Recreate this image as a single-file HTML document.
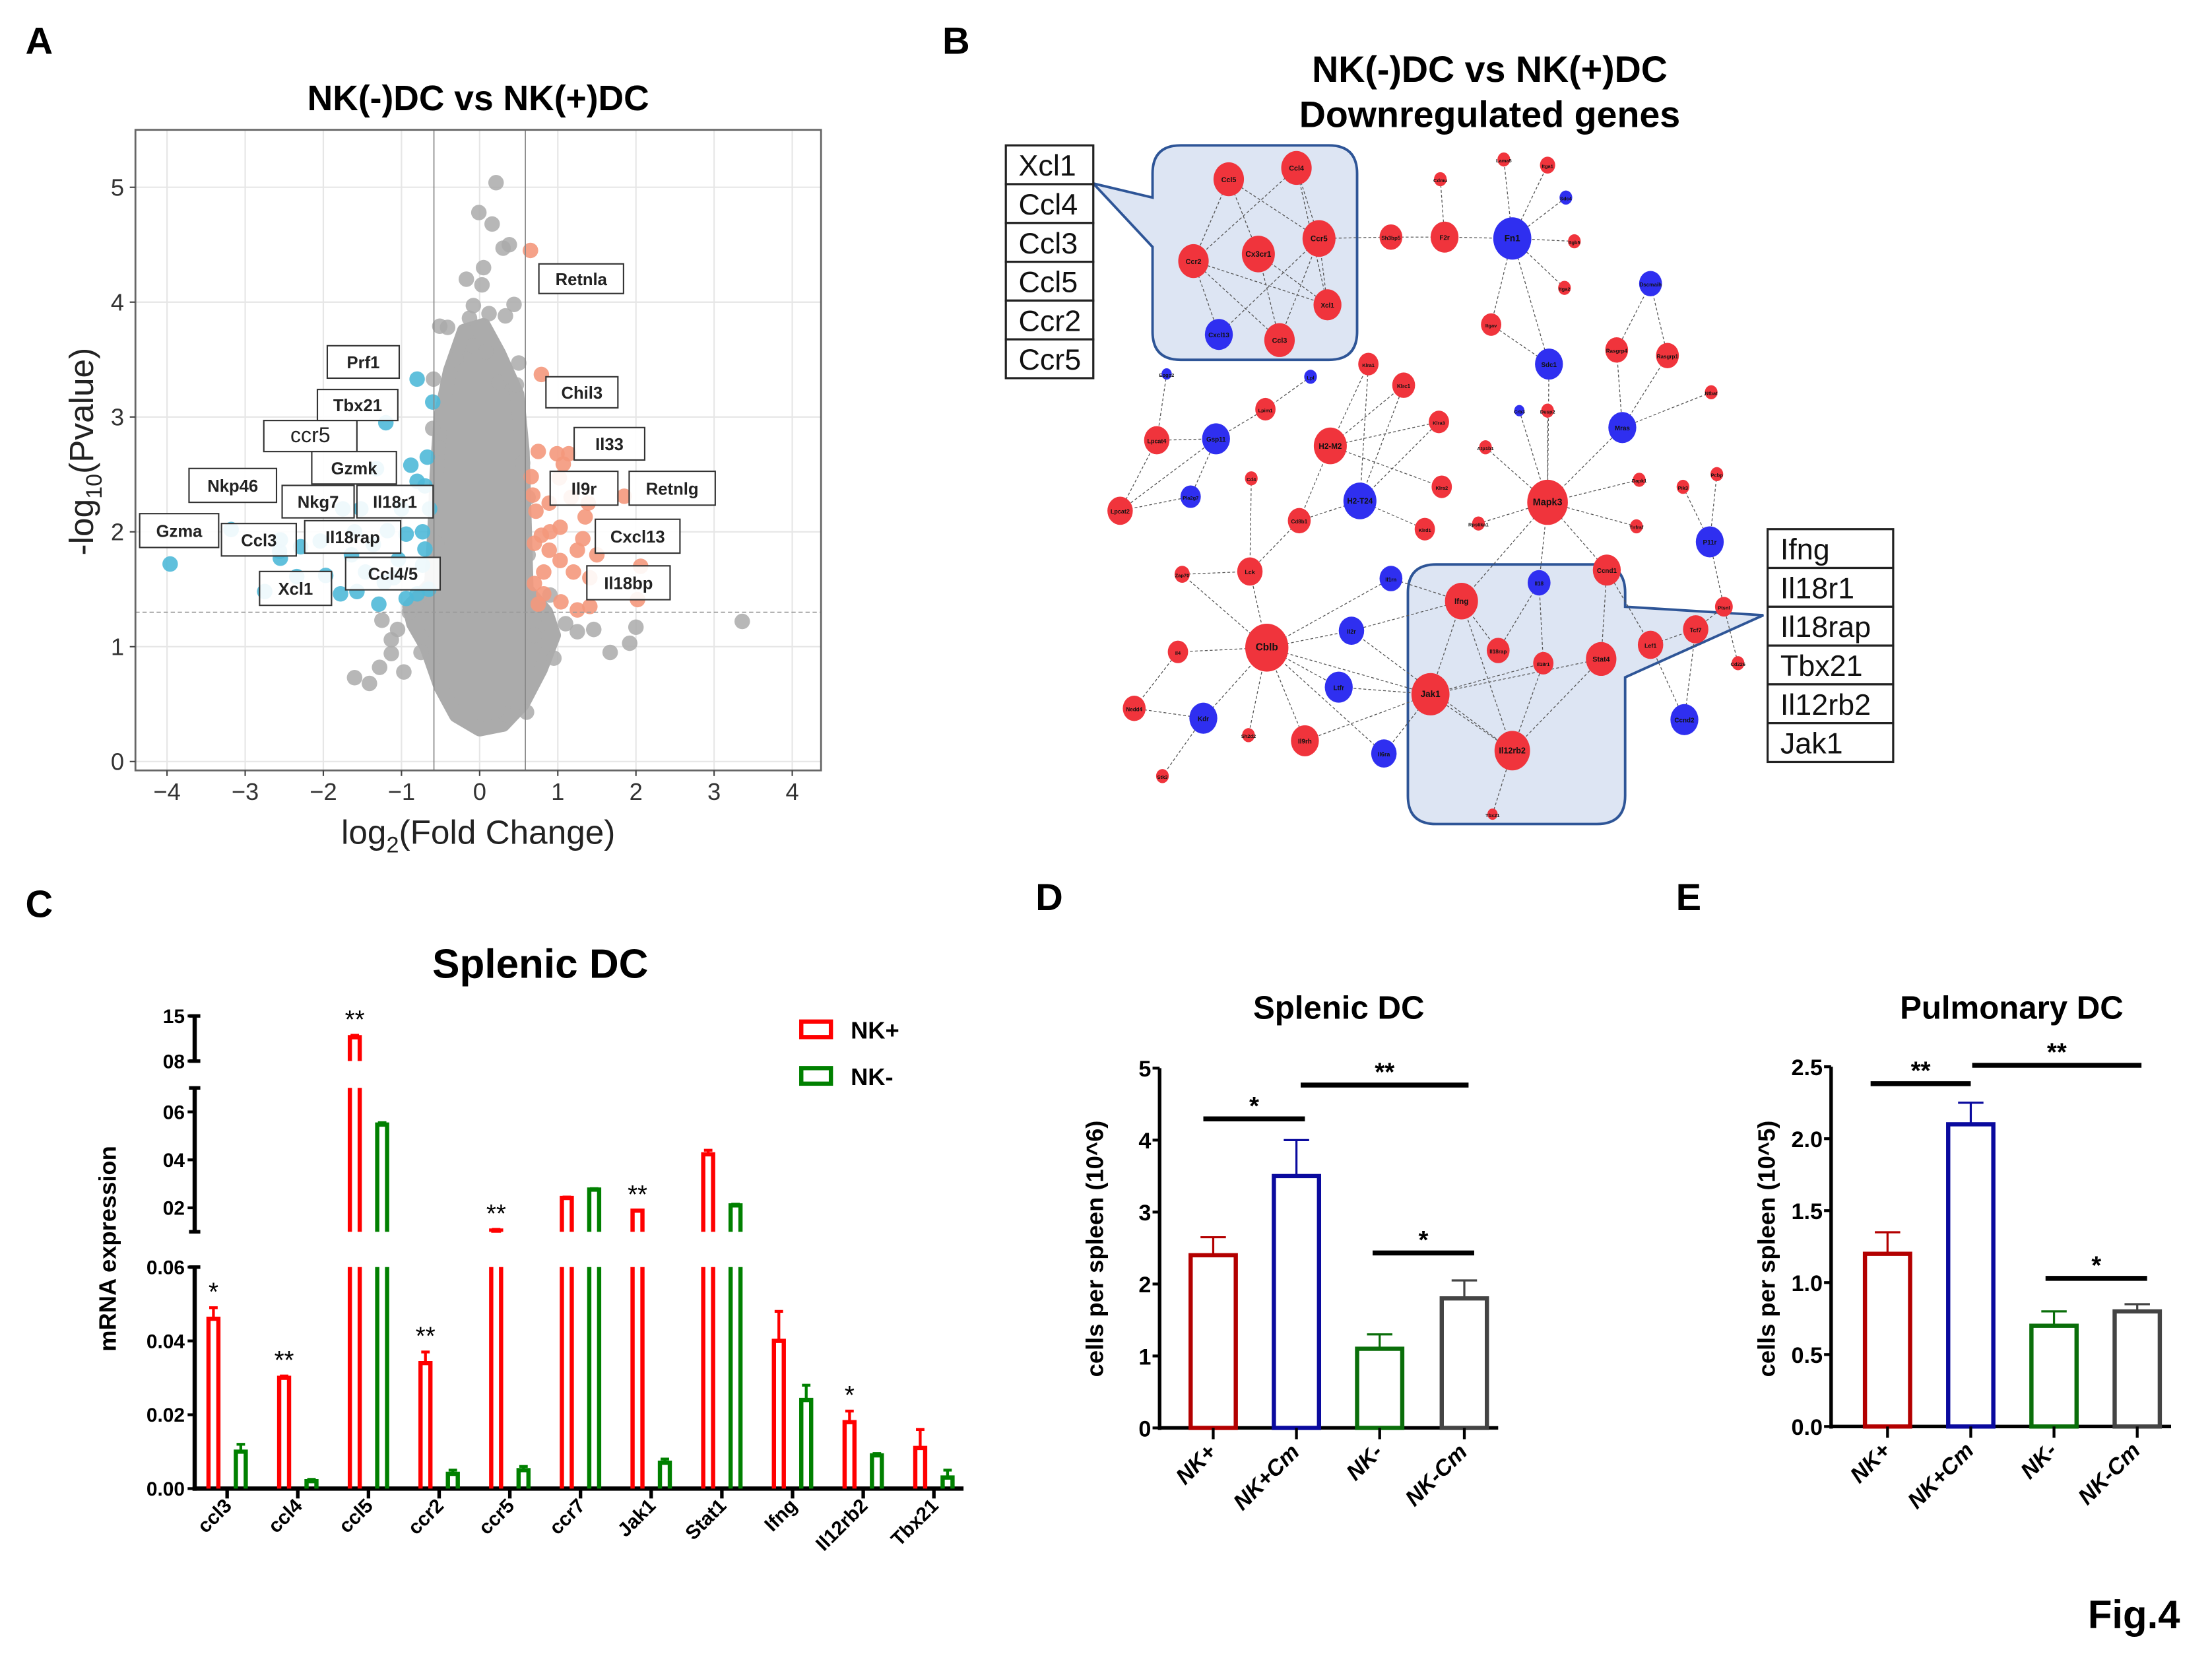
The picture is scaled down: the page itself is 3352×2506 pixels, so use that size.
<!DOCTYPE html>
<html><head><meta charset="utf-8">
<style>
html,body{margin:0;padding:0;background:#fff;}
svg{display:block;font-family:"Liberation Sans",Arial,sans-serif;}
</style></head>
<body>
<svg id="fig" width="3352" height="2506" viewBox="0 0 1568 1172.2" xmlns="http://www.w3.org/2000/svg">
<rect x="0" y="0" width="1568" height="1173" fill="#fff"/>
<g font-weight="bold" font-size="27" fill="#000">
<text x="18" y="38">A</text>
<text x="668" y="38">B</text>
<text x="18" y="650">C</text>
<text x="734" y="645">D</text>
<text x="1188" y="645">E</text>
<text x="1480" y="1154" font-size="28">Fig.4</text>
</g>
<g id="pA"></g>
<g id="pB"></g>
<g id="pC"></g>
<g id="pD"></g>
<g id="pE"></g>
</svg>
<script>
// ---------------- Panel A data ----------------
const volcanoGrayOutliers = [[0.21,5.04],[-0.01,4.78],[0.16,4.68],[0.3,4.47],[0.38,4.5],[-0.17,4.2],[0.05,4.3],[0.03,4.15],[-0.08,3.97],[0.44,3.98],[0.33,3.88],[-0.51,3.79],[-0.41,3.78],[-0.13,3.86],[-0.09,3.62],[0.08,3.57],[0.5,3.47],[0.47,3.28],[-0.59,3.33],[-0.51,2.73],[3.36,1.22],[2.0,1.17],[1.67,0.95],[1.92,1.03],[1.46,1.15],[1.25,1.13],[-0.97,0.78],[-1.28,0.82],[-1.41,0.68],[-1.6,0.73],[-1.13,0.94],[-1.13,1.06],[-1.25,1.23],[0.6,0.43],[0.33,0.41],[0.95,0.9],[1.1,1.2],[-0.9,1.3],[-1.05,1.15],[0.9,1.45],[0.55,2.6],[0.62,2.3],[-0.6,2.9],[-0.55,1.9],[0.62,1.8],[0.7,1.1],[-0.75,0.95],[0.25,3.3],[-0.3,3.5],[0.12,3.9]];
const volcanoDown = [[-3.96,1.72],[-3.18,2.02],[-2.75,1.48],[-2.55,1.93],[-2.56,1.83],[-2.55,1.77],[-2.29,1.87],[-2.34,1.61],[-1.97,1.62],[-2.04,1.92],[-1.75,2.2],[-1.52,2.2],[-1.32,2.55],[-1.2,2.95],[-0.8,3.33],[-0.6,3.13],[-0.67,2.65],[-0.88,2.58],[-0.8,2.44],[-0.64,2.2],[-0.73,2.0],[-0.94,1.98],[-1.18,2.01],[-1.36,1.89],[-1.64,1.8],[-1.46,1.65],[-1.22,1.56],[-1.57,1.48],[-1.29,1.37],[-0.8,1.46],[-0.73,1.71],[-1.04,1.76],[-0.94,1.42],[-1.78,1.46],[-0.7,1.85],[-1.0,2.2],[-1.1,1.6],[-0.65,1.5],[-0.7,2.4],[-1.6,2.0]];
const volcanoUp = [[0.65,4.45],[0.79,3.37],[0.75,2.7],[0.99,2.68],[1.14,2.68],[1.07,2.59],[0.66,2.48],[1.02,2.47],[1.17,2.3],[1.39,2.25],[1.85,2.31],[0.68,2.32],[0.72,2.18],[0.89,2.25],[1.35,2.13],[1.03,2.04],[0.79,1.97],[1.32,1.94],[1.25,1.84],[0.89,1.84],[1.03,1.75],[0.82,1.65],[1.2,1.65],[1.41,1.6],[2.06,1.7],[2.02,1.41],[0.82,1.46],[1.25,1.32],[1.41,1.35],[1.04,1.39],[0.75,1.37],[0.7,1.9],[0.9,2.0],[1.5,1.8],[0.7,1.55]];
const volcanoCloud = [[0,0.28],[-0.3,0.4],[-0.5,0.65],[-0.68,1.0],[-0.85,1.2],[-0.9,1.35],[-0.62,1.55],[-0.58,2.0],[-0.55,2.5],[-0.5,3.0],[-0.38,3.4],[-0.2,3.75],[0.05,3.8],[0.25,3.55],[0.48,3.2],[0.55,2.7],[0.58,2.0],[0.6,1.5],[0.85,1.3],[0.95,1.1],[0.78,0.8],[0.55,0.5],[0.3,0.32]];
const volcanoLabels = [["Retnla",382,187,442,208,1],["Prf1",232,245,283,268,1],["Tbx21",225,276,282,298,1],["ccr5",187,298,253,320,0],["Gzmk",221,320,281,343,1],["Nkp46",134,332,196,356,1],["Nkg7",200,344,251,367,1],["Il18r1",253,344,307,367,1],["Gzma",99,364,155,388,1],["Ccl3",157,371,210,394,1],["Il18rap",216,369,284,392,1],["Ccl4/5",245,395,312,418,1],["Xcl1",184,405,235,429,1],["Chil3",387,267,438,289,1],["Il33",407,303,457,326,1],["Il9r",390,334,438,358,1],["Retnlg",446,334,507,358,1],["Cxcl13",422,368,482,392,1],["Il18bp",416,401,475,425,1]];
const volcanoXTicks = [-4,-3,-2,-1,0,1,2,3,4];
const volcanoYTicks = [0,1,2,3,4,5];

// ---------------- Panel B data ----------------
const netNodes = [["Ccl5",871,127,12,"r"],["Ccl4",919,119,12,"r"],["Ccr5",935,169,13,"r"],["Ccr2",846,185,12,"r"],["Cx3cr1",892,180,13,"r"],["Xcl1",941,216,11,"r"],["Cxcl13",864,237,11,"b"],["Ccl3",907,241,12,"r"],
["Sh3bp5",986,168,9,"r"],["F2r",1024,168,11,"r"],["Fn1",1072,169,15,"b"],["Lama5",1066,113,5,"r"],["Itga1",1097,117,6,"r"],["Sdc4",1110,140,5,"b"],["Itgb5",1116,171,5,"r"],["Itga2",1109,204,5,"r"],["Cdmu",1021,127,5,"r"],["Itgav",1057,230,8,"r"],["Sdc1",1098,258,11,"b"],["Dscmaih",1170,201,9,"b"],["Rasgrp4",1146,248,9,"r"],["Rasgrp1",1182,252,9,"r"],["Ntbat",1213,278,5,"r"],["Mras",1150,303,11,"b"],
["Klra1",970,258,8,"r"],["Klrc1",995,273,9,"r"],["Klra3",1020,299,8,"r"],["Klra2",1022,345,8,"r"],["Klrd1",1010,375,8,"r"],["H2-M2",943,316,13,"r"],["H2-T24",964,355,13,"b"],["Lpim1",897,290,8,"r"],["Lpl",929,267,5,"b"],["Epgp2",827,265,4,"b"],["Lpcat4",820,312,10,"r"],["Gsp11",862,311,11,"b"],["Pla2g7",844,352,8,"b"],["Lpcat2",794,362,10,"r"],["Cd4",887,339,5,"r"],["Cd8b1",921,369,9,"r"],["Lck",886,405,10,"r"],["Zap70",838,407,6,"r"],
["Crb3",1077,291,4,"b"],["Dusp2",1097,291,5,"r"],["Atp1b1",1053,317,5,"r"],["Mapk3",1097,356,16,"r"],["Rps6ka1",1048,371,5,"r"],["Dapk1",1162,340,5,"r"],["Tnfrsf",1160,373,5,"r"],["Pik3",1193,345,5,"r"],["Pcbp",1217,336,5,"r"],["P11r",1212,384,11,"b"],["Ccnd1",1139,404,11,"r"],["Il18",1091,413,9,"b"],["Il1rn",986,410,9,"b"],["Ifng",1036,426,13,"r"],["Il2r",958,447,10,"b"],["Cblb",898,459,17,"r"],["Il18rap",1062,461,9,"r"],["Il18r1",1094,470,8,"r"],["Stat4",1135,467,12,"r"],["Lef1",1170,457,10,"r"],["Tcf7",1202,446,10,"r"],["Ptsnl",1222,430,7,"r"],["Cd226",1232,470,5,"r"],
["Ltfr",949,487,11,"b"],["Jak1",1014,492,15,"r"],["Il12rb2",1072,532,14,"r"],["Tbx21",1058,577,4,"r"],["Il6ra",981,534,10,"b"],["Kdr",853,509,11,"b"],["Nedd4",804,502,9,"r"],["Il4",835,462,8,"r"],["Sh2d2",885,521,5,"r"],["Il9rh",925,525,11,"r"],["Stk3",824,550,5,"r"],["Ccnd2",1194,510,11,"b"]];
const netEdges = [["Ccl5","Ccr2"],["Ccl5","Ccr5"],["Ccl5","Cx3cr1"],["Ccl4","Ccr2"],["Ccl4","Ccr5"],["Ccl4","Xcl1"],["Ccr2","Cxcl13"],["Ccr2","Xcl1"],["Ccr2","Ccl3"],["Cx3cr1","Ccl3"],["Ccr5","Ccl3"],["Ccr5","Cxcl13"],["Ccr5","Xcl1"],["Cx3cr1","Xcl1"],
["Ccr5","Sh3bp5"],["Sh3bp5","F2r"],["F2r","Fn1"],["F2r","Cdmu"],["Fn1","Lama5"],["Fn1","Itga1"],["Fn1","Sdc4"],["Fn1","Itgb5"],["Fn1","Itga2"],["Fn1","Itgav"],["Fn1","Sdc1"],["Itgav","Sdc1"],["Dscmaih","Rasgrp4"],["Dscmaih","Rasgrp1"],["Rasgrp4","Mras"],["Rasgrp1","Mras"],["Ntbat","Mras"],["Sdc1","Mapk3"],["Mras","Mapk3"],["Crb3","Mapk3"],["Dusp2","Mapk3"],["Atp1b1","Mapk3"],["Rps6ka1","Mapk3"],["Dapk1","Mapk3"],["Tnfrsf","Mapk3"],["Mapk3","Ccnd1"],["Mapk3","Ifng"],["Mapk3","Il18"],["Pik3","P11r"],["Pcbp","P11r"],["P11r","Ptsnl"],["Ptsnl","Cd226"],
["H2-M2","Klra1"],["H2-M2","Klrc1"],["H2-M2","Klra3"],["H2-M2","Klra2"],["H2-T24","Klrd1"],["H2-T24","Klrc1"],["H2-T24","Klra3"],["H2-M2","Cd8b1"],["H2-T24","Cd8b1"],["Klra1","H2-T24"],["Lpl","Lpim1"],["Lpim1","Gsp11"],["Gsp11","Lpcat4"],["Epgp2","Lpcat4"],["Lpcat4","Lpcat2"],["Gsp11","Lpcat2"],["Gsp11","Pla2g7"],["Pla2g7","Lpcat2"],["Cd4","Lck"],["Cd8b1","Lck"],["Lck","Zap70"],["Lck","Cblb"],["Zap70","Cblb"],
["Cblb","Il4"],["Cblb","Kdr"],["Cblb","Sh2d2"],["Cblb","Il9rh"],["Cblb","Ltfr"],["Cblb","Il2r"],["Cblb","Il1rn"],["Cblb","Jak1"],["Cblb","Il6ra"],["Il4","Nedd4"],["Nedd4","Kdr"],["Kdr","Stk3"],["Ifng","Il2r"],["Ifng","Jak1"],["Ifng","Il18rap"],["Ifng","Il12rb2"],["Il1rn","Ifng"],["Il18","Il18rap"],["Il18","Il18r1"],["Jak1","Il18r1"],["Jak1","Stat4"],["Jak1","Il12rb2"],["Il12rb2","Tbx21"],["Il12rb2","Stat4"],["Il12rb2","Il18r1"],["Il9rh","Jak1"],["Il6ra","Jak1"],["Ltfr","Jak1"],["Il2r","Il12rb2"],["Ccnd1","Stat4"],["Ccnd1","Lef1"],["Lef1","Ccnd2"],["Tcf7","Ccnd2"],["Tcf7","Lef1"],["Ptsnl","Tcf7"]];
const netList1 = ["Xcl1","Ccl4","Ccl3","Ccl5","Ccr2","Ccr5"];
const netList2 = ["Ifng","Il18r1","Il18rap","Tbx21","Il12rb2","Jak1"];

// ---------------- Panel C data ----------------
const cGenes = ["ccl3","ccl4","ccl5","ccr2","ccr5","ccr7","Jak1","Stat1","Ifng","Il12rb2","Tbx21"];
const cNKplus = [0.046,0.030,1.17,0.034,0.105,0.241,0.188,0.423,0.040,0.018,0.011];
const cNKplusErr = [0.049,0.0305,1.2,0.037,0.11,0.245,0.19,0.44,0.048,0.021,0.016];
const cNKminus = [0.010,0.002,0.547,0.004,0.005,0.276,0.007,0.21,0.024,0.009,0.003];
const cNKminusErr = [0.012,0.0025,0.555,0.005,0.006,0.28,0.008,0.215,0.028,0.0095,0.005];
const cStars = ["*","**","**","**","**","","**","","","*",""];

// ---------------- Panel D/E data ----------------
const groups = ["NK+","NK+Cm","NK-","NK-Cm"];
const dValues = [2.4,3.5,1.1,1.8];
const dErr = [2.65,4.0,1.3,2.05];
const dTicks = [0,1,2,3,4,5];
const eValues = [1.2,2.1,0.7,0.8];
const eErr = [1.35,2.25,0.8,0.85];
const eTicks = [0,0.5,1,1.5,2,2.5];
const eTickLabels = ["0.0","0.5","1.0","1.5","2.0","2.5"];

const NS="http://www.w3.org/2000/svg";
function mk(parent,tag,attrs,text){const e=document.createElementNS(NS,tag);for(const k in attrs)e.setAttribute(k,attrs[k]);if(text!==undefined)e.textContent=text;parent.appendChild(e);return e;}

// ================= Panel A =================
(function(){
const g=document.getElementById('pA');
const L=96,R=582,T=92,B=546;
const xs=v=>340+v*55.4, ys=v=>539.7-v*81.4;
let t=mk(g,'text',{x:339,y:78,'text-anchor':'middle','font-size':25,'font-weight':'bold'},'NK(-)DC vs NK(+)DC');


for(const v of volcanoXTicks){let l=mk(g,'line',{x1:xs(v),x2:xs(v),y1:T,y2:B,stroke:'#e6e6e6','stroke-width':1});

}
for(const v of volcanoYTicks){let l=mk(g,'line',{x1:L,x2:R,y1:ys(v),y2:ys(v),stroke:'#e6e6e6','stroke-width':1});

}
let poly=mk(g,'polygon',{points:volcanoCloud.map(p=>xs(p[0])+','+ys(p[1])).join(' '),fill:'#ababab',stroke:'#ababab','stroke-width':10,'stroke-linejoin':'round'});


for(const p of volcanoGrayOutliers){let c=mk(g,'circle',{cx:xs(p[0]),cy:ys(p[1]),r:5.5,fill:'#aaaaaa','fill-opacity':0.85});

}
for(const p of volcanoDown){let c=mk(g,'circle',{cx:xs(p[0]),cy:ys(p[1]),r:5.5,fill:'#4fb9d8','fill-opacity':0.9});

}
for(const p of volcanoUp){let c=mk(g,'circle',{cx:xs(p[0]),cy:ys(p[1]),r:5.5,fill:'#f4987c','fill-opacity':0.9});

}
for(const v of [-0.585,0.585]){let l=mk(g,'line',{x1:xs(v),x2:xs(v),y1:T,y2:B,stroke:'#888','stroke-width':0.8});

}
let hl=mk(g,'line',{x1:L,x2:R,y1:ys(1.3),y2:ys(1.3),stroke:'#999','stroke-width':0.8,'stroke-dasharray':'3,2'});


for(const lb of volcanoLabels){const bg=mk(g,'g',{});


mk(bg,'rect',{x:lb[1],y:lb[2],width:lb[3]-lb[1],height:lb[4]-lb[2],fill:'#fff','fill-opacity':0.9,stroke:'#333','stroke-width':1});
mk(bg,'text',{x:(lb[1]+lb[3])/2,y:(lb[2]+lb[4])/2+4.5,'text-anchor':'middle','font-size':lb[5]?12:15,'font-weight':lb[5]?'bold':'normal',fill:'#222'},lb[0]);}
let fr=mk(g,'rect',{x:L,y:T,width:R-L,height:B-T,fill:'none',stroke:'#666','stroke-width':1.3});


for(const v of volcanoXTicks){mk(g,'line',{x1:xs(v),x2:xs(v),y1:B,y2:B+4,stroke:'#444'});
let tx=mk(g,'text',{x:xs(v),y:B+21,'text-anchor':'middle','font-size':17,fill:'#333'},v<0?'\u2212'+(-v):String(v));

}
for(const v of volcanoYTicks){mk(g,'line',{x1:L-4,x2:L,y1:ys(v),y2:ys(v),stroke:'#444'});
let tx=mk(g,'text',{x:L-8,y:ys(v)+6,'text-anchor':'end','font-size':17,fill:'#333'},String(v));

}
let xt=mk(g,'text',{x:339,y:598,'text-anchor':'middle','font-size':24,fill:'#222'});


xt.innerHTML='log<tspan font-size="16" dy="6">2</tspan><tspan dy="-6">(Fold Change)</tspan>';
let yt=mk(g,'text',{transform:'translate(66,320) rotate(-90)','text-anchor':'middle','font-size':24,fill:'#222'});


yt.innerHTML='-log<tspan font-size="16" dy="6">10</tspan><tspan dy="-6">(Pvalue)</tspan>';
})();

// ================= Panel B =================
(function(){
const g=document.getElementById('pB');
let t1=mk(g,'text',{x:1056,y:58,'text-anchor':'middle','font-size':26,'font-weight':'bold'},'NK(-)DC vs NK(+)DC');


let t2=mk(g,'text',{x:1056,y:90,'text-anchor':'middle','font-size':26,'font-weight':'bold'},'Downregulated genes');


let c1=mk(g,'path',{d:'M837,103 H942 Q962,103 962,123 V235 Q962,255 942,255 H837 Q817,255 817,235 V175 L775,130 L817,140 V123 Q817,103 837,103 Z',fill:'#dde5f3',stroke:'#2e5597','stroke-width':1.8});


let c2=mk(g,'path',{d:'M1018,400 H1132 Q1152,400 1152,420 V430 L1250,436 L1152,480 V564 Q1152,584 1132,584 H1018 Q998,584 998,564 V420 Q998,400 1018,400 Z',fill:'#dde5f3',stroke:'#2e5597','stroke-width':1.8});


const pos={};for(const n of netNodes)pos[n[0]]=n;
for(const e of netEdges){const a=pos[e[0]],b=pos[e[1]];let l=mk(g,'line',{x1:a[1],y1:a[2],x2:b[1],y2:b[2],stroke:'#555','stroke-width':0.6,'stroke-dasharray':'2,1.5'});

}
for(const n of netNodes){const ng=mk(g,'g',{});


mk(ng,'ellipse',{cx:n[1],cy:n[2],rx:n[3]*0.9,ry:n[3],fill:n[4]==='r'?'#f0343c':'#2f2ff0'});
mk(ng,'text',{x:n[1],y:n[2]+2,'text-anchor':'middle','font-size':Math.max(3.5,n[3]*0.42),'font-weight':'bold',fill:'#111'},n[0]);}
function list(items,x,y,w,h,fs,name){const lg=mk(g,'g',{});


items.forEach((s,i)=>{mk(lg,'rect',{x:x,y:y+i*h,width:w,height:h,fill:'#fff',stroke:'#222','stroke-width':1.5});
mk(lg,'text',{x:x+9,y:y+i*h+h-6,'font-size':fs,fill:'#111'},s);});}
list(netList1,713,103,62,27.5,21,'gene-list-chemokines');
list(netList2,1253,375,89,27.5,21,'gene-list-ifng');
})();

// ================= Panel C =================
(function(){
const g=document.getElementById('pC');
const ax=138, x0=161, dx=50.1, bw=10;
function yC(v){if(v<=0.06)return 1055-v/0.06*157;if(v<=0.1)return 898;if(v<=0.7)return 873-(v-0.1)/0.6*102;if(v<0.8)return 771;return 752-(v-0.8)/0.7*32;}
const segs=[[0,0.06,1055,898],[0.1,0.7,873,771],[0.8,1.5,752,720]];
let tt=mk(g,'text',{x:383,y:693,'text-anchor':'middle','font-size':29,'font-weight':'bold'},'Splenic DC');


let yl=mk(g,'text',{transform:'translate(82,885) rotate(-90)','text-anchor':'middle','font-size':17,'font-weight':'bold'},'mRNA expression');


for(const s of segs){let l=mk(g,'line',{x1:ax,x2:ax,y1:s[2]+(s[2]===1055?1.5:0),y2:s[3],stroke:'#000','stroke-width':3});


mk(g,'line',{x1:ax-4,x2:ax+4,y1:s[3],y2:s[3],stroke:'#000','stroke-width':2.5});
if(s[2]!==1055)mk(g,'line',{x1:ax-4,x2:ax+4,y1:s[2],y2:s[2],stroke:'#000','stroke-width':2.5});}
const yticks=[[0,'0.00'],[0.02,'0.02'],[0.04,'0.04'],[0.06,'0.06'],[0.2,'02'],[0.4,'04'],[0.6,'06'],[0.8,'08'],[1.5,'15']];
for(const tk of yticks){mk(g,'line',{x1:ax-5,x2:ax,y1:yC(tk[0]),y2:yC(tk[0]),stroke:'#000','stroke-width':2});
let tx=mk(g,'text',{x:ax-7,y:yC(tk[0])+5,'text-anchor':'end','font-size':14,'font-weight':'bold'},tk[1]);

}
let xa=mk(g,'line',{x1:ax-1.5,x2:683,y1:1055,y2:1055,stroke:'#000','stroke-width':3});


function bar(cx,v,err,col,name){const bg=mk(g,'g',{});


const l=cx-bw/2+1.5,r=cx+bw/2-1.5;
for(const s of segs){if(v<=s[0])continue;const top=Math.min(v,s[1]);const yt=yC(top);
const closed=v<=s[1];
let d='M'+l+','+s[2]+' V'+yt+(closed?' H'+r:' M'+r+','+yt)+' V'+s[2];
mk(bg,'path',{d:d,fill:'none',stroke:col,'stroke-width':3});
if(closed){const ye=yC(err);mk(bg,'line',{x1:cx,x2:cx,y1:yt,y2:ye,stroke:col,'stroke-width':2});
mk(bg,'line',{x1:cx-3,x2:cx+3,y1:ye,y2:ye,stroke:col,'stroke-width':2});}}}
cGenes.forEach((gn,i)=>{const tx=x0+dx*i;
mk(g,'line',{x1:tx,x2:tx,y1:1055,y2:1062,stroke:'#000','stroke-width':2.5});
bar(tx-9.7,cNKplus[i],cNKplusErr[i],'#ff0000','bar-nkplus-'+gn.toLowerCase());
bar(tx+9.7,cNKminus[i],cNKminusErr[i],'#008000','bar-nkminus-'+gn.toLowerCase());
let lb=mk(g,'text',{transform:'translate('+(tx+4)+',1068) rotate(-45)','text-anchor':'end','font-size':14,'font-weight':'bold'},gn);


if(cStars[i]){let st=mk(g,'text',{x:tx-9.7,y:yC(cNKplusErr[i])-5,'text-anchor':'middle','font-size':18},cStars[i]);

}});
const leg=[['NK+','#ff0000',730],['NK-','#008000',763]];
for(const e of leg){const lg=mk(g,'g',{});


mk(lg,'rect',{x:568,y:e[2]-6,width:21,height:11,fill:'none',stroke:e[1],'stroke-width':3});
mk(lg,'text',{x:603,y:e[2]+6,'font-size':17,'font-weight':'bold'},e[0]);}
})();

// ================= Panels D / E =================
const barColors=['#b30000','#0a0a9e','#0a6e0a','#444444'];
function groupChart(id,ax,base,top,maxV,vals,errs,ticks,tickLabels,title,titleX,ylabel,xs,sig,key){
const g=document.getElementById(id);
const ys=v=>base-(v/maxV)*(base-top);
let tt=mk(g,'text',{x:titleX,y:722,'text-anchor':'middle','font-size':23,'font-weight':'bold'},title);


let yl=mk(g,'text',{transform:'translate('+(ax-40)+',885) rotate(-90)','text-anchor':'middle','font-size':17,'font-weight':'bold'},ylabel);


mk(g,'line',{x1:ax,x2:ax,y1:top,y2:base+1.5,stroke:'#000','stroke-width':2.5});
let xa=mk(g,'line',{x1:ax-1,x2:xs[3]+24,y1:base,y2:base,stroke:'#000','stroke-width':2.5});


ticks.forEach((v,i)=>{mk(g,'line',{x1:ax-5,x2:ax,y1:ys(v),y2:ys(v),stroke:'#000','stroke-width':2});
let tx=mk(g,'text',{x:ax-6,y:ys(v)+6,'text-anchor':'end','font-size':16,'font-weight':'bold'},tickLabels[i]);

});
groups.forEach((gn,i)=>{const cx=xs[i],col=barColors[i];
const bg=mk(g,'g',{});


const yt=ys(vals[i]),ye=ys(errs[i]);
mk(bg,'line',{x1:cx,x2:cx,y1:yt,y2:ye,stroke:col,'stroke-width':1.5});
mk(bg,'line',{x1:cx-9,x2:cx+9,y1:ye,y2:ye,stroke:col,'stroke-width':1.5});
mk(bg,'rect',{x:cx-16,y:yt,width:32,height:base-yt,fill:'#fff',stroke:col,'stroke-width':3});
mk(g,'line',{x1:cx,x2:cx,y1:base,y2:base+8,stroke:'#000','stroke-width':2});
let lb=mk(g,'text',{transform:'translate('+(cx+3)+','+(base+18)+') rotate(-45)','text-anchor':'end','font-size':16,'font-weight':'bold','font-style':'italic'},gn);

});
for(const s of sig){const sg=mk(g,'g',{});


mk(sg,'line',{x1:s[0],x2:s[1],y1:s[2],y2:s[2],stroke:'#000','stroke-width':3.5});
mk(sg,'text',{x:(s[0]+s[1])/2,y:s[2]-3,'text-anchor':'middle','font-size':18,'font-weight':'bold'},s[3]);}
}
groupChart('pD',822,1012,757,5,dValues,dErr,dTicks,dTicks.map(String),'Splenic DC',949,'cells per spleen (10^6)',[860,919,978,1038],[[853,925,793,'*'],[922,1041,769,'**'],[973,1045,888,'*']],'splenic-dc');
groupChart('pE',1298,1011,756,2.5,eValues,eErr,eTicks,eTickLabels,'Pulmonary DC',1426,'cells per spleen (10^5)',[1338,1397,1456,1515],[[1326,1397,768,'**'],[1398,1518,755,'**'],[1450,1522,906,'*']],'pulmonary-dc');
</script>
</body></html>
